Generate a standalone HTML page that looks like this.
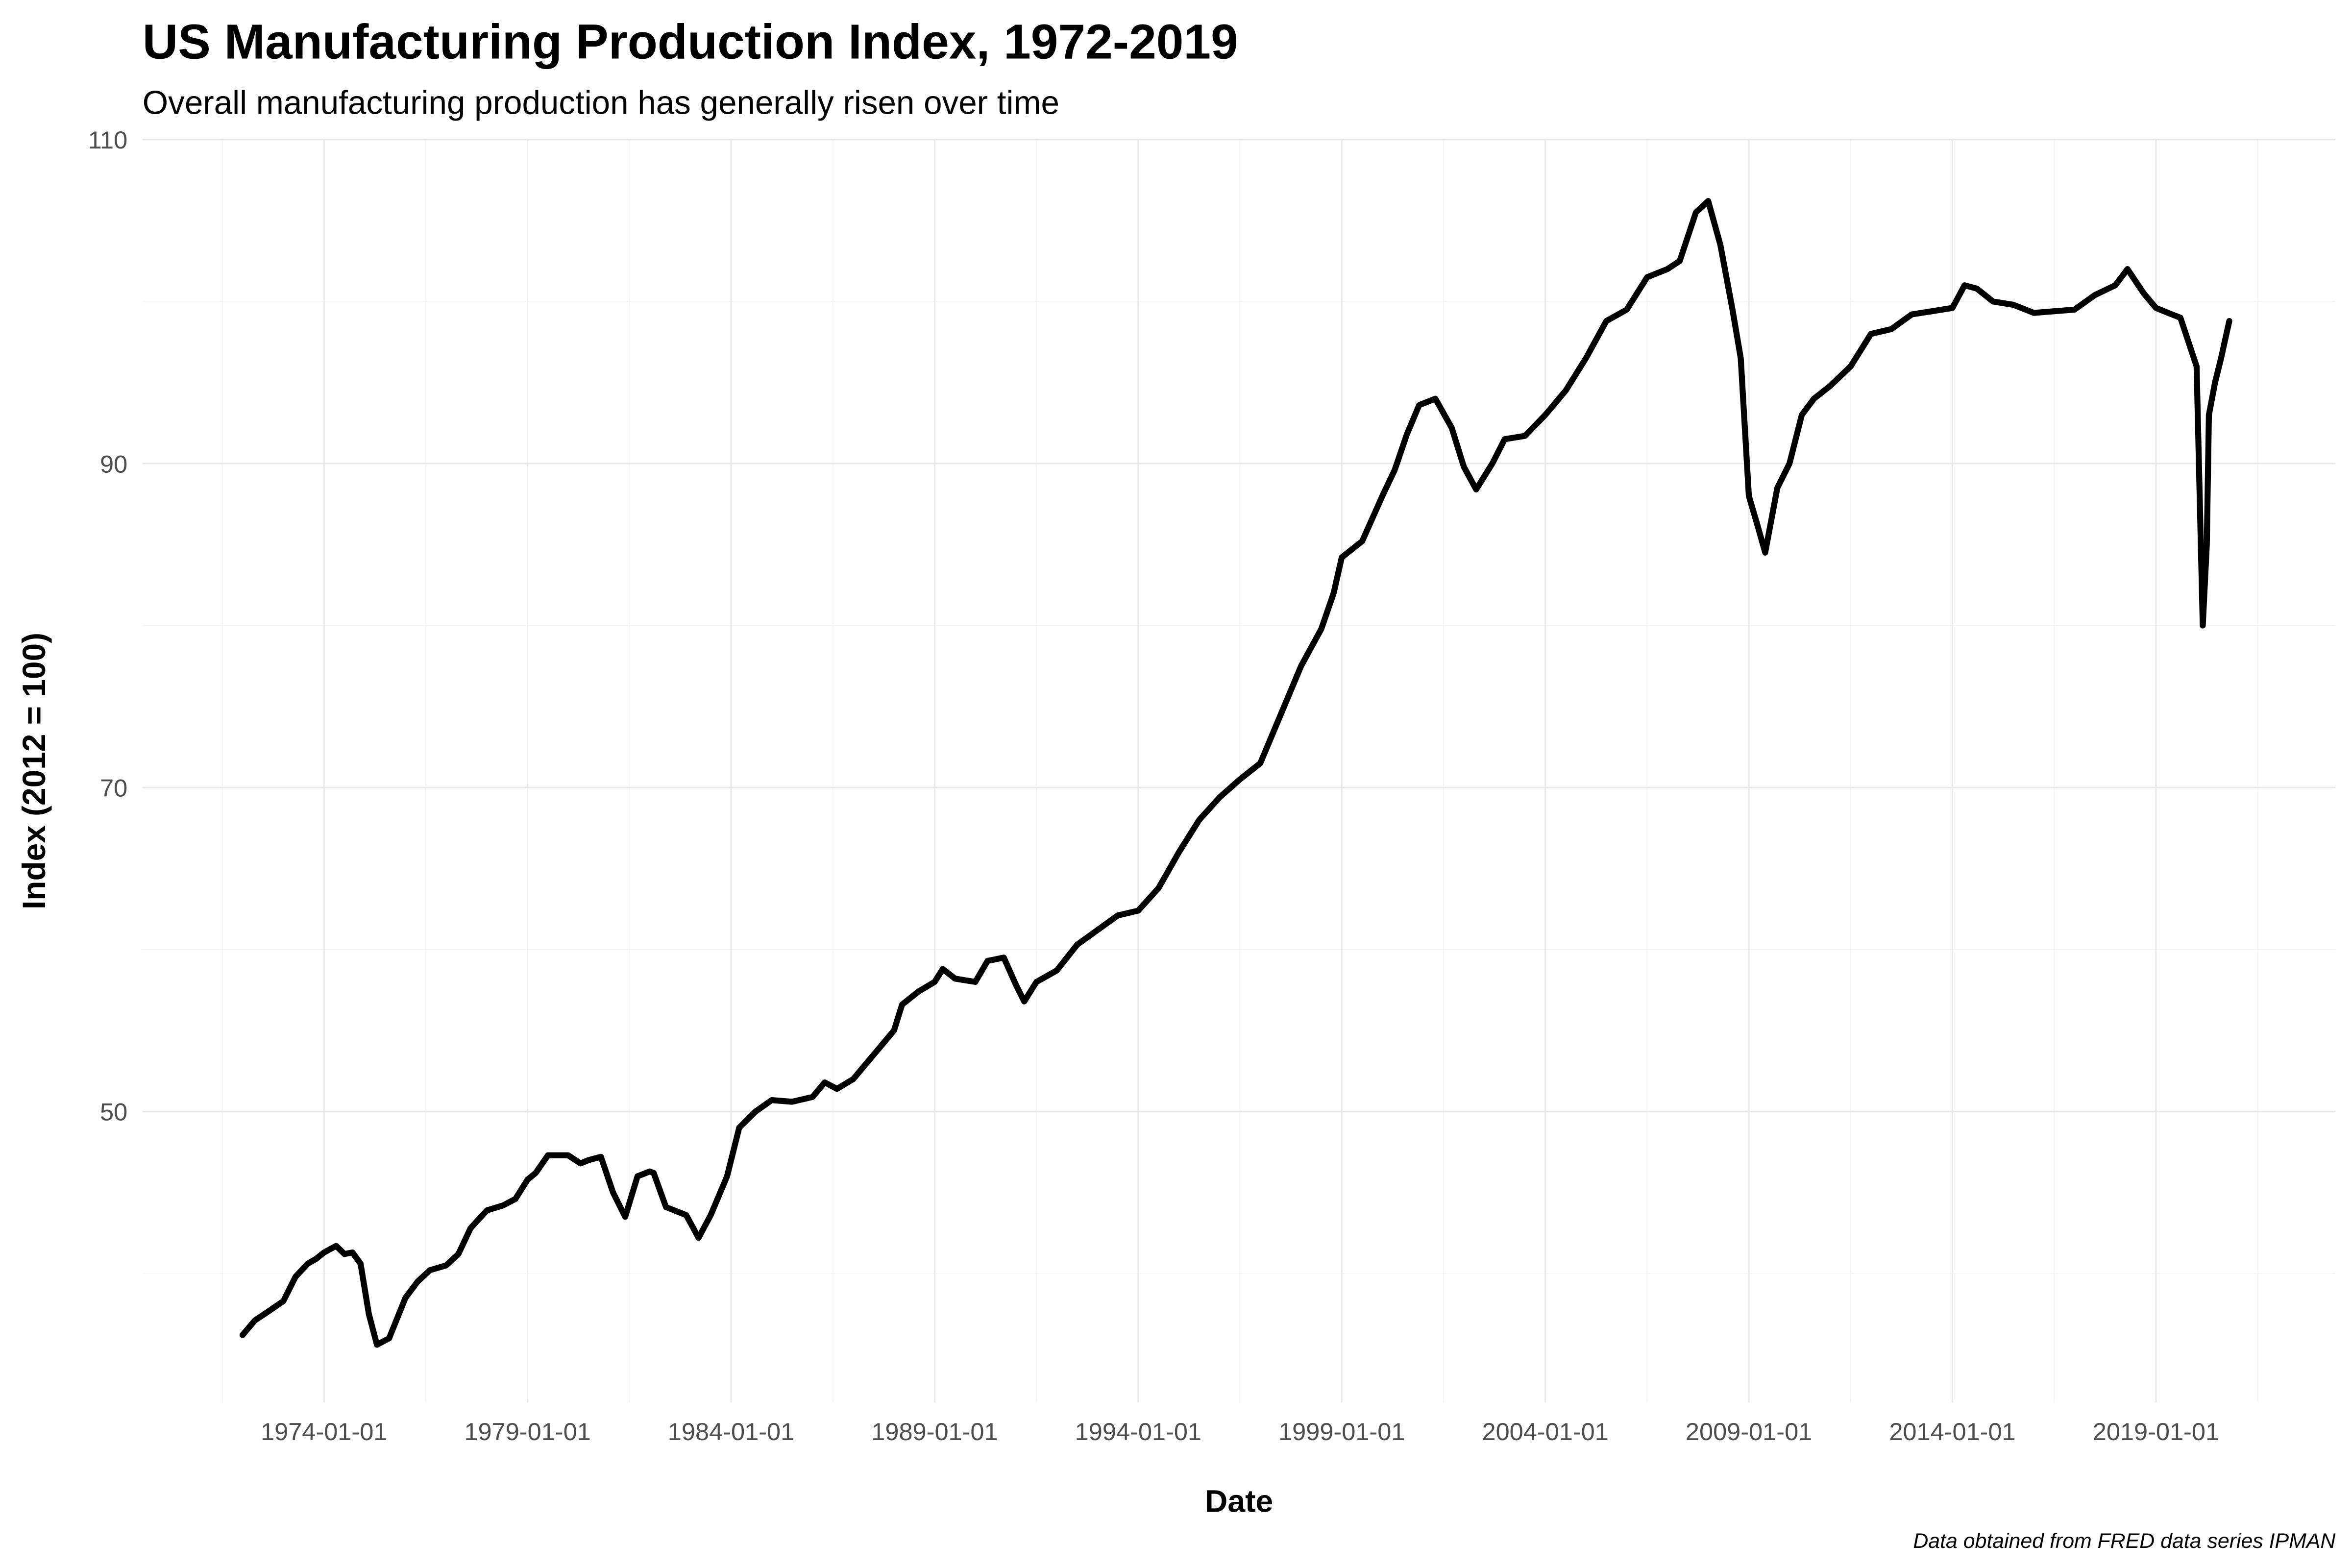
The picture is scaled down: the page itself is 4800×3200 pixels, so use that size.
<!DOCTYPE html>
<html><head><meta charset="utf-8"><style>
html,body{margin:0;padding:0;background:#fff}
svg{display:block}
text{font-family:"Liberation Sans",sans-serif}
</style></head><body>
<svg id="chart" width="4800" height="3200" viewBox="0 0 1568 1045.33" preserveAspectRatio="none" xmlns="http://www.w3.org/2000/svg">
<rect width="1568" height="1046" fill="#fff"/>
<g id="grid"></g>
<g id="xticks"></g>
<g id="yticks"></g>
<path id="line" fill="none" stroke="#000" stroke-width="4" stroke-linejoin="round" stroke-linecap="round"/>
<text x="95" y="39" font-size="32.7" font-weight="bold" fill="#000">US Manufacturing Production Index, 1972-2019</text>
<text x="95" y="76" font-size="22" fill="#000">Overall manufacturing production has generally risen over time</text>
<text x="826" y="1008" font-size="21" font-weight="bold" text-anchor="middle">Date</text>
<text transform="translate(30,514) rotate(-90)" font-size="21.5" font-weight="bold" text-anchor="middle">Index (2012 = 100)</text>
<text x="1557" y="1032" font-size="14" font-style="italic" text-anchor="end">Data obtained from FRED data series IPMAN</text>
</svg>
<script>
const years=[1972.0,1972.3,1972.6,1973.0,1973.3,1973.6,1973.8,1974.0,1974.3,1974.5,1974.7,1974.9,1975.1,1975.3,1975.6,1976.0,1976.3,1976.6,1977.0,1977.3,1977.6,1978.0,1978.4,1978.7,1979.0,1979.2,1979.5,1980.0,1980.3,1980.5,1980.8,1981.1,1981.4,1981.7,1982.0,1982.1,1982.4,1982.9,1983.2,1983.5,1983.9,1984.2,1984.6,1985.0,1985.5,1986.0,1986.3,1986.6,1987.0,1987.5,1988.0,1988.2,1988.6,1989.0,1989.2,1989.5,1990.0,1990.3,1990.7,1991.0,1991.2,1991.5,1992.0,1992.5,1993.0,1993.5,1994.0,1994.5,1995.0,1995.5,1996.0,1996.5,1997.0,1997.5,1998.0,1998.5,1998.8,1999.0,1999.5,2000.0,2000.3,2000.6,2000.9,2001.3,2001.7,2002.0,2002.3,2002.7,2003.0,2003.5,2004.0,2004.5,2005.0,2005.5,2006.0,2006.5,2007.0,2007.3,2007.7,2008.0,2008.3,2008.6,2008.8,2009.0,2009.2,2009.4,2009.7,2010.0,2010.3,2010.6,2011.0,2011.5,2012.0,2012.5,2013.0,2013.5,2014.0,2014.3,2014.6,2015.0,2015.5,2016.0,2016.5,2017.0,2017.5,2018.0,2018.3,2018.7,2019.0,2019.3,2019.6,2020.0,2020.15,2020.25,2020.3,2020.45,2020.6,2020.8,2021.0,2021.1];
const values=[36.2,37.1,37.6,38.3,39.8,40.6,40.9,41.3,41.7,41.2,41.3,40.6,37.5,35.6,36.0,38.5,39.5,40.2,40.5,41.2,42.8,43.9,44.2,44.6,45.8,46.2,47.3,47.3,46.8,47.0,47.2,45.0,43.5,46.0,46.3,46.2,44.1,43.6,42.2,43.6,46.0,49.0,50.0,50.7,50.6,50.9,51.8,51.4,52.0,53.5,55.0,56.6,57.4,58.0,58.8,58.2,58.0,59.3,59.5,57.8,56.8,58.0,58.7,60.3,61.2,62.1,62.4,63.8,66.0,68.0,69.4,70.5,71.5,74.5,77.5,79.8,82.0,84.2,85.2,88.0,89.6,91.8,93.6,94.0,92.2,89.8,88.4,90.0,91.5,91.7,93.0,94.5,96.5,98.8,99.5,101.5,102.0,102.5,105.5,106.2,103.5,99.5,96.5,88.0,86.3,84.5,88.5,90.0,93.0,94.0,94.8,96.0,98.0,98.3,99.2,99.4,99.6,101.0,100.8,100.0,99.8,99.3,99.4,99.5,100.4,101.0,102.0,100.5,99.6,99.3,99.0,96.0,80.0,85.0,93.0,95.0,96.5,98.8];
const yTicks=[50,70,90,110];
const yMinor=[40,60,80,100];
const xTickYears=[1974,1979,1984,1989,1994,1999,2004,2009,2014,2019];
const xTickLabels=["1974-01-01","1979-01-01","1984-01-01","1989-01-01","1994-01-01","1999-01-01","2004-01-01","2009-01-01","2014-01-01","2019-01-01"];
const X=y=>216+(y-1974)*27.14;
const Y=v=>93+(110-v)*10.8;
const NS="http://www.w3.org/2000/svg";
const grid=document.getElementById('grid'),xt=document.getElementById('xticks'),yt=document.getElementById('yticks');
function ln(x1,y1,x2,y2,c,w){const l=document.createElementNS(NS,'line');l.setAttribute('x1',x1);l.setAttribute('y1',y1);l.setAttribute('x2',x2);l.setAttribute('y2',y2);l.setAttribute('stroke',c);l.setAttribute('stroke-width',w);grid.appendChild(l);return l;}
yMinor.forEach(v=>{const l=ln(95,Y(v),1557,Y(v),'#f4f4f4',0.6);

});
xTickYears.forEach(y=>{const l=ln(X(y-2.5),93,X(y-2.5),935,'#f4f4f4',0.6);

});
const lm=ln(X(2021.5),93,X(2021.5),935,'#f4f4f4',0.6);


yTicks.forEach(v=>{const l=ln(95,Y(v),1557,Y(v),'#e8e8e8',1);


const t=document.createElementNS(NS,'text');t.setAttribute('x',85);t.setAttribute('y',Y(v)+6);t.setAttribute('text-anchor','end');t.setAttribute('font-size','16.5');t.setAttribute('fill','#4d4d4d');t.textContent=v;


yt.appendChild(t);});
xTickYears.forEach((y,i)=>{const l=ln(X(y),93,X(y),935,'#e8e8e8',1);


const t=document.createElementNS(NS,'text');t.setAttribute('x',X(y));t.setAttribute('y',960);t.setAttribute('text-anchor','middle');t.setAttribute('font-size','16.5');t.setAttribute('fill','#4d4d4d');t.textContent=xTickLabels[i];


xt.appendChild(t);});
document.getElementById('line').setAttribute('d',years.map((y,i)=>(i?'L':'M')+X(y).toFixed(1)+','+Y(values[i]).toFixed(1)).join(''));
</script>
</body></html>
